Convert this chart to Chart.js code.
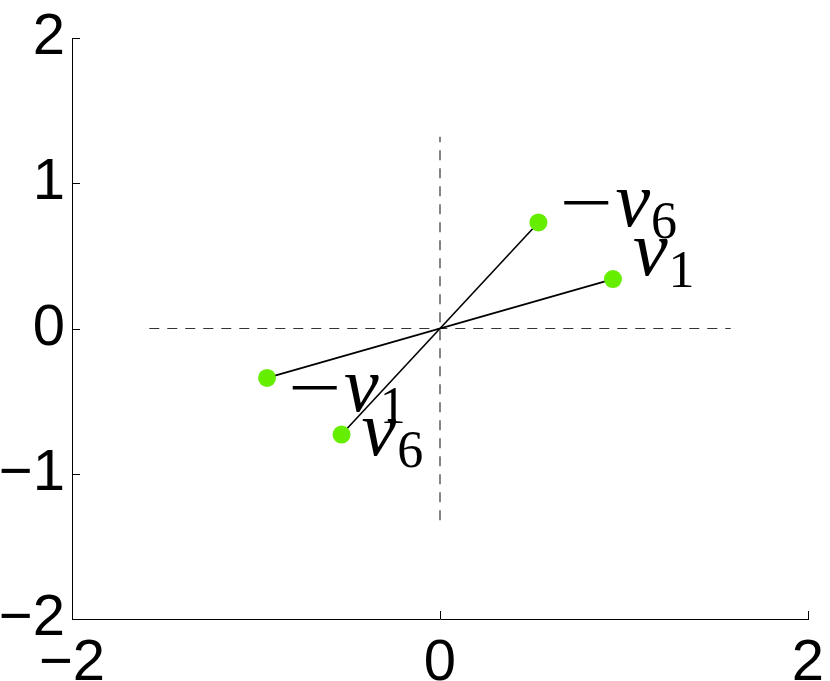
<!DOCTYPE html>
<html>
<head>
<meta charset="utf-8">
<script src="https://cdn.jsdelivr.net/npm/chart.js@4.4.0/dist/chart.umd.min.js"></script>
<style>
  html, body { margin: 0; padding: 0; background: #fff; }
  #wrap { width: 830px; height: 681px; }
</style>
</head>
<body>
<div id="wrap"><canvas id="c" width="830" height="681"></canvas></div>
<script>
// --- data ---
const axisMin = -2, axisMax = 2;
const xTicks = [-2, 0, 2];
const yTicks = [-2, -1, 0, 1, 2];

// vectors v1 and v6 (their negatives are plotted too)
const vecNames = ['1', '6'];
const vecX = [0.94, -0.535];
const vecY = [0.34, -0.73];

// dashed cross through origin
const hDashX = [-1.58, 1.58];
const vDashY = [-1.32, 1.32];

// point order: v1, -v1, v6, -v6
const ptX = [vecX[0], -vecX[0], vecX[1], -vecX[1]];
const ptY = [vecY[0], -vecY[0], vecY[1], -vecY[1]];
const ptSub = ['1', '1', '6', '6'];
const ptNeg = [false, true, false, true];
// label placement relative to the marker (pixels)
const labelDx = [20, 25, 20, 25];
const labelDy = [-4, 33, 20, 4];

const GREEN = '#66ee00';
const fmt = v => (v < 0 ? '\u2212' + Math.abs(v) : String(v));

// inward tick marks, drawn on the left and bottom axes (MATLAB style)
const innerTicks = {
  id: 'innerTicks',
  afterDraw(chart) {
    const { ctx, chartArea: a } = chart;
    const xs = chart.scales.x, ys = chart.scales.y;
    ctx.save();
    ctx.strokeStyle = '#000';
    ctx.lineWidth = 1;
    ctx.beginPath();
    xTicks.forEach(t => {
      const px = Math.round(xs.getPixelForValue(t)) + 0.5;
      ctx.moveTo(px, a.bottom);
      ctx.lineTo(px, a.bottom - 8);
    });
    yTicks.forEach(t => {
      const py = Math.round(ys.getPixelForValue(t)) + 0.5;
      ctx.moveTo(a.left, py);
      ctx.lineTo(a.left + 8, py);
    });
    ctx.stroke();
    ctx.restore();
  }
};

// math-style labels next to each marker: (-)v_k
const vecLabels = {
  id: 'vecLabels',
  afterDatasetsDraw(chart) {
    const ctx = chart.ctx;
    const pts = chart.getDatasetMeta(0).data;
    ctx.save();
    ctx.fillStyle = '#000';
    ctx.textBaseline = 'alphabetic';
    ctx.textAlign = 'left';
    pts.forEach((p, i) => {
      let x = p.x + labelDx[i];
      const base = p.y + labelDy[i];
      if (ptNeg[i]) {
        ctx.font = '70px "Liberation Serif"';
        const m = ctx.measureText('\u2212');
        const ink = m.actualBoundingBoxRight + m.actualBoundingBoxLeft;
        const sx = 46 / ink;
        ctx.save();
        ctx.translate(x + m.actualBoundingBoxLeft * sx, base);
        ctx.scale(sx, 1);
        ctx.fillText('\u2212', 0, 0);
        ctx.restore();
        x += 52;
      }
      ctx.font = 'italic 78px "Liberation Serif"';
      ctx.fillText('v', x, base);
      x += ctx.measureText('v').width + 1;
      ctx.font = '52px "Liberation Serif"';
      ctx.fillText(ptSub[i], x, base + 12);
    });
    ctx.restore();
  }
};

const tickFont = { family: '"Liberation Sans", Arial, sans-serif', size: 58 };

new Chart(document.getElementById('c'), {
  type: 'scatter',
  data: {
    datasets: [
      {
        data: ptX.map((x, i) => ({ x, y: ptY[i] })),
        backgroundColor: GREEN,
        borderColor: GREEN,
        borderWidth: 0,
        pointRadius: 9,
        showLine: false
      },
      {
        data: [{ x: -ptX[0], y: -ptY[0] }, { x: ptX[0], y: ptY[0] }],
        showLine: true, borderColor: '#000', borderWidth: 1.6, pointRadius: 0
      },
      {
        data: [{ x: ptX[2], y: ptY[2] }, { x: ptX[3], y: ptY[3] }],
        showLine: true, borderColor: '#000', borderWidth: 1.6, pointRadius: 0
      },
      {
        data: hDashX.map(x => ({ x, y: 0 })),
        showLine: true, borderColor: '#333', borderWidth: 1.2, borderDash: [10, 8], pointRadius: 0
      },
      {
        data: vDashY.map(y => ({ x: 0, y })),
        showLine: true, borderColor: '#333', borderWidth: 1.2, borderDash: [10, 8], pointRadius: 0
      }
    ]
  },
  options: {
    responsive: false,
    animation: false,
    events: [],
    layout: { padding: { left: 0, top: 38, right: 22, bottom: 0 } },
    plugins: { legend: { display: false }, tooltip: { enabled: false } },
    scales: {
      x: {
        type: 'linear', min: axisMin, max: axisMax,
        afterFit: s => { s.height = 62; s.paddingLeft = 0; s.paddingRight = 0; },
        afterBuildTicks: s => { s.ticks = xTicks.map(v => ({ value: v })); },
        grid: { drawOnChartArea: false, drawTicks: false },
        border: { display: true, color: '#000', width: 1 },
        ticks: { color: '#000', font: tickFont, padding: 10, maxRotation: 0, callback: fmt }
      },
      y: {
        type: 'linear', min: axisMin, max: axisMax,
        afterFit: s => { s.width = 72; s.paddingTop = 0; s.paddingBottom = 0; },
        afterBuildTicks: s => { s.ticks = yTicks.map(v => ({ value: v })); },
        grid: { drawOnChartArea: false, drawTicks: false },
        border: { display: true, color: '#000', width: 1 },
        ticks: { color: '#000', font: tickFont, padding: 7, callback: fmt }
      }
    }
  },
  plugins: [innerTicks, vecLabels]
});
</script>
</body>
</html>
